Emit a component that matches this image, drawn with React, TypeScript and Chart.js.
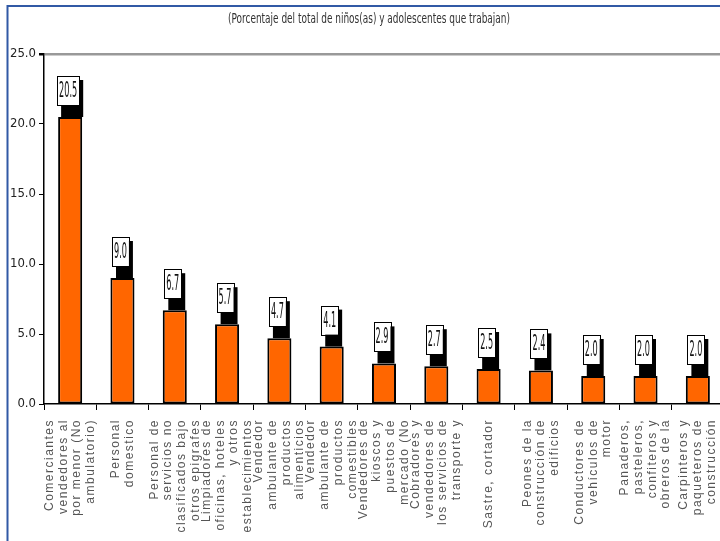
import React, { useEffect, useRef } from "react";
import { Chart, registerables } from "chart.js";

Chart.register(...registerables);

const titleText = "(Porcentaje del total de niños(as) y adolescentes que trabajan)";

const categories: string[][] = [
  ["Comerciantes", "vendedores al", "por menor (No", "ambulatorio)"],
  ["Personal", "domestico"],
  ["Personal de", "servicios no", "clasificados bajo", "otros epigrafes"],
  ["Limpiadores de", "oficinas, hoteles", "y otros", "establecimientos"],
  ["Vendedor", "ambulante de", "productos", "alimenticios"],
  ["Vendedor", "ambulante de", "productos", "comestibles"],
  ["Vendedores de", "kioscos y", "puestos de", "mercado (No"],
  ["Cobradores y", "vendedores de", "los servicios de", "transporte y"],
  ["Sastre, cortador"],
  ["Peones de la", "construcción de", "edificios"],
  ["Conductores de", "vehículos de", "motor"],
  ["Panaderos,", "pasteleros,", "confiteros y", "obreros de la"],
  ["Carpinteros y", "paqueteros de", "construcción"],
];

const values: number[] = [20.5, 9.0, 6.7, 5.7, 4.7, 4.1, 2.9, 2.7, 2.5, 2.4, 2.0, 2.0, 2.0];

const yTicks: number[] = [0, 5, 10, 15, 20, 25];

const NARROW = '"Liberation Sans Narrow", "DejaVu Sans Condensed", "Liberation Sans", Arial, sans-serif';

export default function App() {
  const canvasRef = useRef<HTMLCanvasElement | null>(null);

  useEffect(() => {
    document.documentElement.style.overflow = "hidden";
    document.body.style.margin = "0";
    const canvas = canvasRef.current;
    if (!canvas) return;

    const framePlugin = {
      id: "framePlugin",
      beforeDraw(chart: any) {
        const ctx = chart.ctx;
        ctx.save();
        ctx.fillStyle = "#fff";
        ctx.fillRect(0, 0, chart.width, chart.height);
        ctx.strokeStyle = "#3159A5";
        ctx.lineWidth = 2;
        ctx.beginPath();
        ctx.moveTo(7.5, 545);
        ctx.lineTo(7.5, 6);
        ctx.lineTo(chart.width + 5, 6);
        ctx.stroke();
        // title
        ctx.font = `14px ${NARROW}`;
        const tw = ctx.measureText(titleText).width;
        const sx = 282 / tw;
        ctx.translate(369, 19);
        ctx.scale(sx, 1);
        ctx.fillStyle = "#333";
        ctx.textAlign = "center";
        ctx.textBaseline = "middle";
        ctx.fillText(titleText, 0, 0);
        ctx.restore();
      },
    };

    const labelsPlugin = {
      id: "labelsPlugin",
      afterDatasetsDraw(chart: any) {
        const ctx = chart.ctx;
        const meta = chart.getDatasetMeta(0);
        ctx.save();
        meta.data.forEach((bar: any, i: number) => {
          const { x, y } = bar.getProps(["x", "y"], true);
          const txt = values[i].toFixed(1);
          ctx.font = `21px ${NARROW}`;
          const sc = 0.43;
          const tw = ctx.measureText(txt).width * sc;
          const bw = tw + 4;
          const bh = 29;
          const bx = x - 2 - bw / 2;
          const by = y - 12 - bh;
          ctx.fillStyle = "#000";
          ctx.fillRect(bx + 4, by + 4, bw, y - (by + 4));
          ctx.fillStyle = "#fff";
          ctx.fillRect(bx, by, bw, bh);
          ctx.strokeStyle = "#000";
          ctx.lineWidth = 1;
          ctx.strokeRect(Math.round(bx) + 0.5, Math.round(by) + 0.5, Math.round(bw), bh);
          ctx.save();
          ctx.translate(bx + bw / 2, by + bh / 2 + 1);
          ctx.scale(sc, 1);
          ctx.fillStyle = "#111";
          ctx.textAlign = "center";
          ctx.textBaseline = "middle";
          ctx.fillText(txt, 0, 0);
          ctx.restore();
        });
        ctx.restore();
      },
      afterDraw(chart: any) {
        const ctx = chart.ctx;
        const xs = chart.scales.x;
        ctx.save();
        ctx.font = '12px "Liberation Sans", Arial, sans-serif';
        (ctx as any).letterSpacing = "1.5px";
        ctx.fillStyle = "#555";
        ctx.textAlign = "right";
        ctx.textBaseline = "middle";
        const lh = 13.7;
        categories.forEach((lines, i) => {
          const px = xs.getPixelForValue(i);
          const n = lines.length;
          lines.forEach((line, j) => {
            const cx = px + (j - (n - 1) / 2) * lh;
            ctx.save();
            ctx.translate(cx, 419);
            ctx.rotate(-Math.PI / 2);
            ctx.fillText(line, 0, 0);
            ctx.restore();
          });
        });
        ctx.restore();
      },
    };

    const chart = new Chart(canvas, {
      type: "bar",
      data: {
        labels: categories.map((c) => c.join(" ")),
        datasets: [
          {
            data: values,
            backgroundColor: "#FF6600",
            borderColor: "#000",
            borderWidth: 2,
            borderSkipped: false,
            barPercentage: 0.46,
            categoryPercentage: 1,
          },
        ],
      },
      options: {
        animation: false,
        responsive: false,
        maintainAspectRatio: false,
        layout: { padding: { left: 1, right: 16, top: 54, bottom: 0 } },
        plugins: {
          legend: { display: false },
          title: { display: false },
          tooltip: { enabled: false },
        },
        scales: {
          x: {
            offset: true,
            grid: {
              display: true,
              drawOnChartArea: false,
              drawTicks: true,
              tickLength: 6,
              color: "#000",
              offset: true,
            },
            border: { display: true, color: "#000", width: 1.5 },
            ticks: { display: false },
            afterFit: (scale: any) => {
              scale.height = 137;
            },
          },
          y: {
            min: 0,
            max: 25,
            afterBuildTicks: (scale: any) => {
              scale.ticks = yTicks.map((v) => ({ value: v }));
            },
            grid: {
              drawOnChartArea: true,
              drawTicks: true,
              tickLength: 5,
              tickColor: "#000",
              color: (c: any) => (c.tick && c.tick.value === 25 ? "#999" : "rgba(0,0,0,0)"),
              lineWidth: (c: any) => (c.tick && c.tick.value === 25 ? 2.5 : 1),
            },
            border: { display: true, color: "#000", width: 1.5 },
            ticks: {
              padding: 3,
              color: "#222",
              font: { family: NARROW, size: 13 },
              callback: (v: any) => Number(v).toFixed(1),
            },
            afterFit: (scale: any) => {
              scale.width = 43;
            },
          },
        },
      },
      plugins: [framePlugin, labelsPlugin],
    });

    return () => {
      chart.destroy();
    };
  }, []);

  return (
    <div
      style={{
        position: "fixed",
        left: 0,
        top: 0,
        width: 720,
        height: 541,
        overflow: "hidden",
        background: "#fff",
      }}
    >
      <canvas
        ref={canvasRef}
        width={740}
        height={541}
        style={{ width: 740, height: 541, display: "block" }}
      />
    </div>
  );
}
